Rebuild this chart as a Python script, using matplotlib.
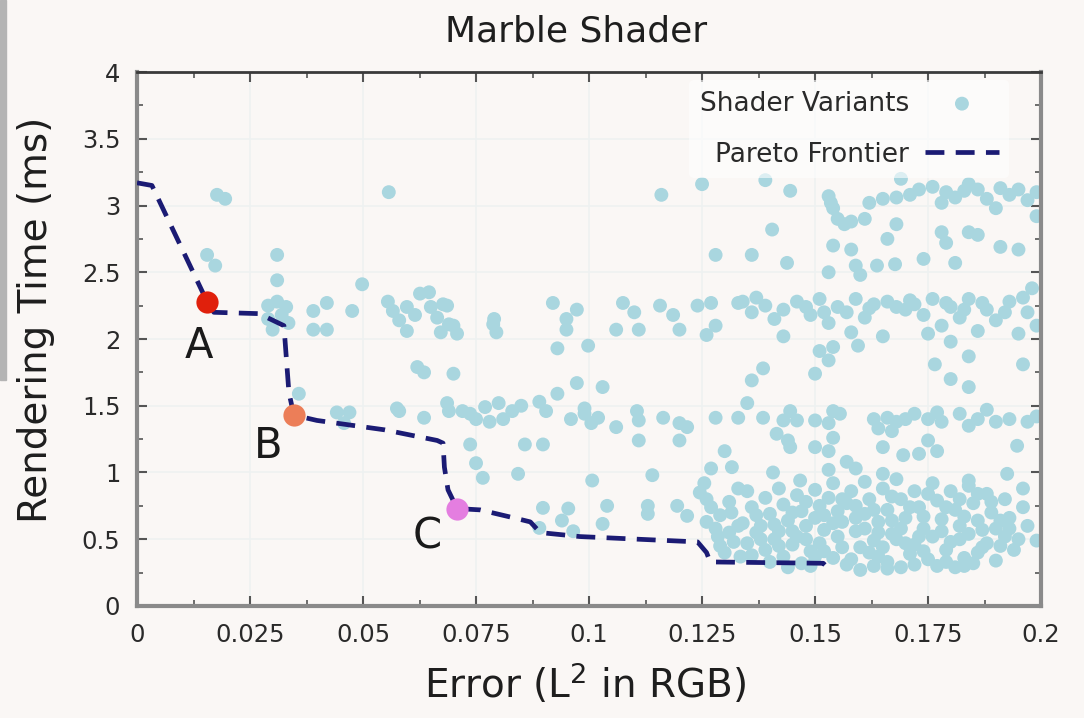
import matplotlib
matplotlib.use("Agg")
import matplotlib.pyplot as plt
from matplotlib.patches import Rectangle

# colours
BG        = "#faf7f5"
DOT       = "#a9d6df"
FRONT     = "#1b1b74"
GRID      = "#eef1f1"

# shader variants: (error, time), grouped by region of the plot
variants_left = [
    (0.0177, 3.08), (0.0195, 3.05), (0.0557, 3.10), (0.0155, 2.63), (0.0173, 2.55),
    (0.031, 2.63), (0.031, 2.44), (0.0498, 2.41),
    (0.029, 2.25), (0.031, 2.28), (0.033, 2.24), (0.029, 2.15), (0.032, 2.18),
    (0.0335, 2.12), (0.030, 2.07), (0.039, 2.21), (0.042, 2.27), (0.042, 2.07),
    (0.039, 2.07), (0.0476, 2.21), (0.0646, 2.35),
    (0.0566, 2.21), (0.058, 2.14), (0.0597, 2.06), (0.0626, 2.34), (0.065, 2.24),
    (0.0664, 2.16), (0.069, 2.11), (0.0708, 2.04), (0.0597, 2.24), (0.0677, 2.26),
    (0.0788, 2.11), (0.062, 1.79), (0.0635, 1.75), (0.070, 1.74),
    (0.0575, 1.48), (0.0635, 1.41), (0.069, 1.46), (0.0737, 1.44), (0.058, 1.46),
    (0.0358, 1.59), (0.0442, 1.45), (0.047, 1.45), (0.0458, 1.37),
    (0.0555, 2.28), (0.0615, 2.18), (0.0672, 2.05),
]

variants_mid = [
    (0.093, 1.93), (0.0998, 1.95), (0.0973, 1.67), (0.103, 1.64), (0.093, 1.59),
    (0.0686, 1.52), (0.072, 1.46), (0.075, 1.40), (0.078, 1.38), (0.077, 1.49),
    (0.080, 1.52), (0.083, 1.46), (0.081, 1.40), (0.085, 1.50),
    (0.089, 1.53), (0.0905, 1.46), (0.096, 1.40), (0.099, 1.44), (0.1005, 1.37),
    (0.102, 1.41), (0.099, 1.48), (0.106, 1.34), (0.1106, 1.46), (0.111, 1.39),
    (0.1164, 1.41), (0.120, 1.37), (0.1217, 1.34), (0.111, 1.24), (0.120, 1.24),
    (0.128, 1.41), (0.133, 1.41), (0.130, 1.16), (0.127, 1.03), (0.1316, 1.04),
    (0.0737, 1.21), (0.0858, 1.21), (0.0898, 1.21), (0.075, 1.07), (0.0765, 0.96),
    (0.0843, 0.99), (0.1007, 0.94), (0.114, 0.98),
    (0.0898, 0.735), (0.0954, 0.73), (0.104, 0.75), (0.113, 0.75), (0.113, 0.69),
    (0.1195, 0.75), (0.1217, 0.675), (0.094, 0.64), (0.0965, 0.56), (0.103, 0.615),
    (0.089, 0.585),
    (0.1245, 0.85), (0.126, 0.80), (0.127, 0.74), (0.129, 0.68), (0.126, 0.63),
    (0.128, 0.58), (0.131, 0.55), (0.133, 0.60), (0.132, 0.48), (0.130, 0.40),
    (0.1335, 0.37), (0.129, 0.45), (0.131, 0.78), (0.133, 0.88),
    (0.1255, 0.92), (0.1285, 0.52), (0.1315, 0.70),
]

variants_top = [
    (0.116, 3.08), (0.125, 3.16), (0.128, 2.63),
    (0.0686, 2.25), (0.070, 2.10), (0.079, 2.15), (0.0795, 2.05), (0.092, 2.27),
    (0.095, 2.15), (0.0973, 2.22), (0.095, 2.07), (0.1075, 2.27), (0.110, 2.20),
    (0.106, 2.07), (0.111, 2.07), (0.1157, 2.25), (0.1186, 2.18), (0.120, 2.07),
    (0.124, 2.25), (0.127, 2.27), (0.128, 2.10), (0.133, 2.27), (0.126, 2.03),
    (0.139, 3.19), (0.1445, 3.11), (0.153, 3.07), (0.154, 2.98), (0.155, 2.90),
    (0.158, 2.88), (0.161, 2.90), (0.162, 3.02), (0.165, 3.05), (0.168, 3.06),
    (0.171, 3.08), (0.169, 3.20), (0.176, 3.14), (0.179, 3.10), (0.181, 3.06),
    (0.184, 3.16), (0.186, 3.12), (0.188, 3.05), (0.190, 2.98), (0.193, 3.08),
    (0.195, 3.12), (0.197, 3.04), (0.199, 3.10), (0.199, 2.92), (0.178, 3.02),
    (0.173, 3.12), (0.183, 3.11), (0.191, 3.13), (0.1535, 3.02), (0.1565, 2.86),
    (0.1405, 2.82), (0.136, 2.63), (0.1438, 2.57), (0.154, 2.70), (0.158, 2.67),
    (0.153, 2.50), (0.159, 2.55), (0.160, 2.48), (0.1637, 2.55), (0.166, 2.75),
    (0.168, 2.86), (0.1677, 2.56), (0.174, 2.60), (0.178, 2.80), (0.179, 2.72),
    (0.184, 2.80), (0.186, 2.78), (0.181, 2.57), (0.191, 2.69), (0.195, 2.67),
    (0.198, 2.38),
    (0.134, 2.28), (0.136, 2.20), (0.139, 2.25), (0.141, 2.15), (0.143, 2.22),
    (0.146, 2.28), (0.149, 2.18), (0.151, 2.30), (0.153, 2.12), (0.155, 2.24),
    (0.157, 2.20), (0.159, 2.30), (0.161, 2.16), (0.163, 2.26), (0.166, 2.28),
    (0.168, 2.24), (0.170, 2.22), (0.172, 2.26), (0.174, 2.18), (0.176, 2.30),
    (0.178, 2.10), (0.180, 2.24), (0.182, 2.16), (0.184, 2.30), (0.186, 2.06),
    (0.188, 2.22), (0.190, 2.14), (0.193, 2.28), (0.195, 2.04), (0.197, 2.20),
    (0.199, 2.10), (0.143, 2.02), (0.158, 2.05), (0.165, 2.02), (0.175, 2.04),
    (0.180, 1.98),
    (0.137, 2.31), (0.148, 2.24), (0.152, 2.20), (0.162, 2.23), (0.171, 2.29),
    (0.179, 2.27), (0.183, 2.22), (0.187, 2.27), (0.192, 2.20), (0.196, 2.31),
]

variants_right = [
    (0.151, 1.91), (0.154, 1.94), (0.153, 1.84), (0.1595, 1.95), (0.1385, 1.78),
    (0.136, 1.69), (0.150, 1.74), (0.1765, 1.81), (0.184, 1.87), (0.180, 1.70),
    (0.196, 1.81), (0.184, 1.64), (0.135, 1.52), (0.1385, 1.41), (0.1445, 1.46),
    (0.146, 1.39), (0.143, 1.39), (0.150, 1.39), (0.154, 1.46), (0.1555, 1.44),
    (0.153, 1.37), (0.154, 1.26), (0.153, 1.16), (0.1415, 1.29), (0.144, 1.24),
    (0.1445, 1.19), (0.150, 1.19), (0.163, 1.40), (0.166, 1.41), (0.168, 1.38),
    (0.164, 1.33), (0.167, 1.31), (0.170, 1.40), (0.165, 1.19), (0.1695, 1.13),
    (0.173, 1.14), (0.172, 1.44), (0.175, 1.40), (0.178, 1.38), (0.177, 1.45),
    (0.175, 1.24), (0.177, 1.16), (0.182, 1.44), (0.186, 1.40), (0.190, 1.38),
    (0.193, 1.40), (0.197, 1.38), (0.199, 1.42), (0.188, 1.47), (0.184, 1.35),
    (0.1947, 1.20), (0.1407, 1.00), (0.1467, 0.94), (0.159, 1.03), (0.165, 0.99),
    (0.184, 0.94), (0.1925, 0.99),
]

variants_dense = [
    (0.135, 0.86), (0.136, 0.74), (0.134, 0.62), (0.137, 0.55), (0.135, 0.47), (0.136, 0.38),
    (0.139, 0.81), (0.140, 0.69), (0.138, 0.60), (0.141, 0.50), (0.139, 0.42), (0.140, 0.33),
    (0.142, 0.88), (0.143, 0.76), (0.144, 0.64), (0.142, 0.56), (0.145, 0.46), (0.143, 0.37),
    (0.144, 0.29), (0.146, 0.83), (0.147, 0.71), (0.148, 0.60), (0.146, 0.52), (0.149, 0.41),
    (0.147, 0.32), (0.150, 0.87), (0.151, 0.75), (0.150, 0.66), (0.152, 0.57), (0.151, 0.47),
    (0.150, 0.37), (0.153, 1.02), (0.154, 0.92), (0.153, 0.81), (0.155, 0.71), (0.154, 0.62),
    (0.156, 0.44), (0.154, 0.36), (0.157, 1.08), (0.158, 0.86), (0.157, 0.77), (0.159, 0.66),
    (0.158, 0.35), (0.160, 0.27), (0.161, 0.93), (0.162, 0.80), (0.161, 0.58), (0.163, 0.49),
    (0.162, 0.40), (0.163, 0.30), (0.165, 0.88), (0.166, 0.72), (0.164, 0.63), (0.167, 0.54),
    (0.165, 0.44), (0.166, 0.33), (0.168, 0.95), (0.169, 0.80), (0.170, 0.66), (0.168, 0.50),
    (0.171, 0.39), (0.169, 0.29), (0.172, 0.86), (0.173, 0.74), (0.174, 0.58), (0.172, 0.46),
    (0.175, 0.35), (0.176, 0.92), (0.177, 0.79), (0.178, 0.65), (0.176, 0.52), (0.179, 0.42),
    (0.177, 0.30), (0.180, 0.86), (0.181, 0.72), (0.182, 0.60), (0.180, 0.48), (0.183, 0.36),
    (0.181, 0.29), (0.184, 0.90), (0.185, 0.77), (0.186, 0.64), (0.184, 0.54), (0.187, 0.44),
    (0.185, 0.32), (0.188, 0.84), (0.189, 0.70), (0.190, 0.58), (0.188, 0.47), (0.190, 0.34),
    (0.192, 0.80), (0.193, 0.66), (0.192, 0.52), (0.194, 0.42), (0.196, 0.74), (0.197, 0.60),
    (0.199, 0.49), (0.196, 0.88),
    # second pass: fill the gaps in the dense block
    (0.137, 0.68), (0.138, 0.50), (0.141, 0.61), (0.142, 0.45), (0.145, 0.70), (0.145, 0.56),
    (0.148, 0.50), (0.148, 0.78), (0.149, 0.30), (0.152, 0.68), (0.152, 0.41), (0.155, 0.52),
    (0.156, 0.80), (0.156, 0.63), (0.159, 0.56), (0.159, 0.75), (0.160, 0.44), (0.161, 0.69),
    (0.163, 0.72), (0.164, 0.55), (0.164, 0.37), (0.167, 0.64), (0.167, 0.82), (0.169, 0.58),
    (0.170, 0.47), (0.171, 0.74), (0.173, 0.52), (0.174, 0.67), (0.174, 0.41), (0.175, 0.84),
    (0.178, 0.56), (0.179, 0.74), (0.179, 0.33), (0.182, 0.80), (0.182, 0.50), (0.183, 0.67),
    (0.186, 0.40), (0.186, 0.84), (0.187, 0.57), (0.189, 0.78), (0.191, 0.64), (0.191, 0.45),
    (0.193, 0.58), (0.195, 0.50), (0.157, 0.31), (0.166, 0.28), (0.172, 0.31), (0.183, 0.30),
]

# pareto frontier
front_err  = [0.0, 0.0033, 0.0155, 0.017, 0.027, 0.0325, 0.0336, 0.0347, 0.0398,
              0.0547, 0.0664, 0.0677, 0.068, 0.0688, 0.0708, 0.0759, 0.084, 0.087,
              0.0892, 0.098, 0.124, 0.126, 0.1268, 0.1518, 0.1533]
front_time = [3.17, 3.15, 2.28, 2.20, 2.19, 2.10, 1.60, 1.43, 1.39,
              1.32, 1.24, 1.22, 1.04, 0.87, 0.73, 0.72, 0.655, 0.63,
              0.55, 0.52, 0.48, 0.40, 0.33, 0.32, 0.27]

# highlighted variants
pick_names = ["A", "B", "C"]
pick_err   = [0.0155, 0.0347, 0.0708]
pick_time  = [2.28, 1.43, 0.73]
pick_cols  = ["#e0200c", "#ec7e58", "#e47ee0"]
label_err  = [0.0137, 0.029, 0.0642]
label_time = [1.95, 1.20, 0.52]

xticks = [0, 0.025, 0.05, 0.075, 0.1, 0.125, 0.15, 0.175, 0.2]
xtick_labels = ["0", "0.025", "0.05", "0.075", "0.1", "0.125", "0.15", "0.175", "0.2"]
yticks = [0, 0.5, 1, 1.5, 2, 2.5, 3, 3.5, 4]
ytick_labels = ["0", "0.5", "1", "1.5", "2", "2.5", "3", "3.5", "4"]


fig = plt.figure(figsize=(10.84, 7.18), dpi=100, facecolor=BG)
ax = fig.add_axes([0.1264, 0.156, 0.834, 0.7437], facecolor=BG)

# grey strip on the left edge of the screenshot
fig.patches.append(Rectangle((0, 1 - 380/718), 6/1084, 380/718, transform=fig.transFigure,
                             color="#b4b4b4", zorder=0))

allpts = variants_left + variants_mid + variants_top + variants_right + variants_dense
vx = [p[0] for p in allpts]
vy = [p[1] for p in allpts]
ax.scatter(vx, vy, s=100, color=DOT, edgecolors="none", label="Shader Variants", zorder=2)

ax.plot(front_err, front_time, color=FRONT, lw=3.4, linestyle=(0, (4, 2.4)),
        label="Pareto Frontier", zorder=3)

for i in range(len(pick_names)):
    ax.plot(pick_err[i], pick_time[i], "o", ms=16, color=pick_cols[i], mec="none", zorder=4)
    ax.text(label_err[i], label_time[i], pick_names[i], fontsize=30, ha="center",
            va="center", color="#1a1a1a", zorder=5)

ax.set_xlim(0, 0.2)
ax.set_ylim(0, 4)
ax.set_xticks(xticks)
ax.set_xticklabels(xtick_labels)
ax.set_yticks(yticks)
ax.set_yticklabels(ytick_labels)
ax.set_xticks([0.0125 + 0.025*i for i in range(8)], minor=True)
ax.set_yticks([0.25 + 0.5*i for i in range(8)], minor=True)
ax.tick_params(which="both", direction="in", top=True, right=True, colors="#555555",
               labelcolor="#2a2a2a", labelsize=17.5)
ax.tick_params(which="major", length=7, width=1.5, pad=12)
ax.tick_params(which="minor", length=4, width=1.2)
ax.grid(True, which="major", color=GRID, lw=1.2, zorder=0)
ax.set_axisbelow(True)

for s in ["left", "bottom", "right"]:
    ax.spines[s].set_color("#8a8a8a")
    ax.spines[s].set_linewidth(3)
ax.spines["top"].set_color("#3a3a3a")
ax.spines["top"].set_linewidth(2)

leg = ax.legend(loc="upper right", bbox_to_anchor=(0.965, 0.985), markerfirst=False,
                fontsize=19, frameon=True, facecolor="white", edgecolor="none",
                framealpha=0.6, handlelength=2.8, handletextpad=0.6, labelspacing=0.95,
                scatterpoints=1, borderaxespad=0)
for t in leg.get_texts():
    t.set_color("#2a2a2a")

fig.text(576/1084, 1 - 32/718, "Marble Shader", fontsize=26, ha="center", va="center",
         color="#1e1e1e")
fig.text(585/1084, 1 - 684/718, "Error (L$^2$ in RGB)", fontsize=28, ha="center",
         va="center", color="#1e1e1e")
fig.text(36/1084, 1 - 320/718, "Rendering Time (ms)", fontsize=28, ha="center",
         va="center", rotation=90, color="#1e1e1e")

fig.savefig("out.png", dpi=100, facecolor=BG)
